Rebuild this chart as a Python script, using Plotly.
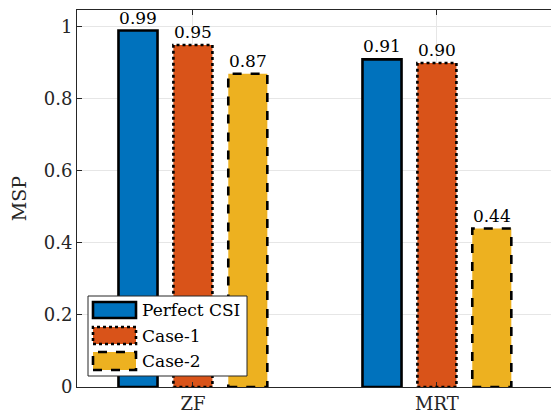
import plotly.graph_objects as go

# Data
schemes = ["ZF", "MRT"]
series_names = ["Perfect CSI", "Case-1", "Case-2"]
perfect_csi = [0.99, 0.91]
case_1 = [0.95, 0.90]
case_2 = [0.87, 0.44]

values = [perfect_csi, case_1, case_2]
colors = ["#0072BD", "#D95319", "#EDB120"]
dashes = ["solid", "dot", "dash"]

# Geometry of grouped bars (in x-axis units)
group_pos = [1, 2]
slot = 0.225
bar_w = 0.16

W, H = 551, 417
ML, MR, MT, MB = 77, 0, 10, 30
plot_w = W - ML - MR
plot_h = H - MT - MB
x_lo = 0.525
px_per_unit = 244
x_hi = x_lo + plot_w / px_per_unit
y_hi = 1.047

font_family = "DejaVu Serif"
ink = "#262626"
fs = 18

fig = go.Figure()
shapes = []
for i, (name, vals, col, dash) in enumerate(zip(series_names, values, colors, dashes)):
    centre = (i - 1) * slot
    fig.add_trace(go.Bar(
        x=group_pos, y=vals, name=name,
        width=bar_w, offset=centre - bar_w / 2,
        marker=dict(color=col, line=dict(width=0)),
        text=[f"{v:.2f}" for v in vals], textposition="outside",
        textfont=dict(family=font_family, size=fs - 1, color="black"),
        cliponaxis=False, showlegend=False,
    ))
    # outlines with the series' line style
    for gx, v in zip(group_pos, vals):
        shapes.append(dict(
            type="rect", xref="x", yref="y",
            x0=gx + centre - bar_w / 2, x1=gx + centre + bar_w / 2,
            y0=0, y1=v,
            line=dict(color="black", width=2.6, dash=dash),
            fillcolor="rgba(0,0,0,0)", layer="above",
        ))


def px_x(p):
    return (p - ML) / plot_w


def px_y(p):
    return (H - MB - p) / plot_h


# Legend box drawn by hand so the swatches carry the outline styles
annotations = []
shapes.append(dict(type="rect", xref="paper", yref="paper",
                   x0=px_x(88), x1=px_x(247), y0=px_y(376), y1=px_y(296),
                   line=dict(color=ink, width=1), fillcolor="white", layer="above"))
entry_rows = [(302, 318), (327, 344), (352, 370)]
for (top, bot), name, col, dash in zip(entry_rows, series_names, colors, dashes):
    shapes.append(dict(type="rect", xref="paper", yref="paper",
                       x0=px_x(93), x1=px_x(136), y0=px_y(bot), y1=px_y(top),
                       line=dict(color="black", width=2.6, dash=dash),
                       fillcolor=col, layer="above"))
    annotations.append(dict(xref="paper", yref="paper", x=px_x(140), y=px_y((top + bot) / 2),
                            text=name, showarrow=False, xanchor="left", yanchor="middle",
                            font=dict(family=font_family, size=fs - 1, color="black")))

fig.update_layout(
    width=W, height=H,
    margin=dict(l=ML, r=MR, t=MT, b=MB),
    paper_bgcolor="white", plot_bgcolor="white",
    barmode="overlay",
    shapes=shapes, annotations=annotations,
    font=dict(family=font_family, size=fs, color=ink),
)
fig.update_xaxes(
    range=[x_lo, x_hi], tickvals=group_pos, ticktext=schemes,
    showgrid=True, gridcolor="#e6e6e6", gridwidth=1,
    showline=True, linecolor=ink, linewidth=1, mirror="allticks",
    ticks="inside", ticklen=5, tickcolor=ink, zeroline=False,
    tickfont=dict(family=font_family, size=fs, color=ink),
)
fig.update_yaxes(
    range=[0, y_hi], tickvals=[0, 0.2, 0.4, 0.6, 0.8, 1],
    ticktext=["0", "0.2", "0.4", "0.6", "0.8", "1"],
    showgrid=True, gridcolor="#e6e6e6", gridwidth=1,
    showline=True, linecolor=ink, linewidth=1,
    ticks="inside", ticklen=5, tickcolor=ink, zeroline=False,
    tickfont=dict(family=font_family, size=fs, color=ink),
    title=dict(text="MSP", font=dict(family=font_family, size=19, color=ink), standoff=12),
)

fig.write_html("out.html")
